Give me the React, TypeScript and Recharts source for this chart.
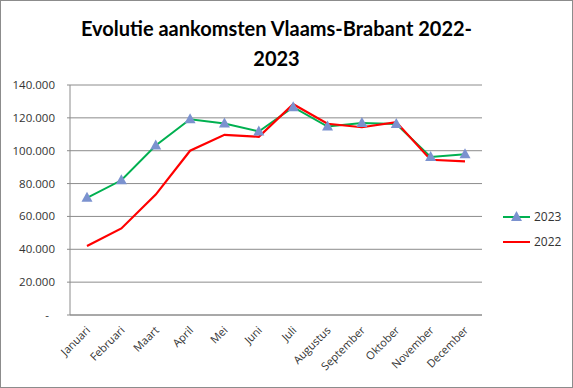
import React from "react";
import { LineChart, Line, XAxis, YAxis, CartesianGrid } from "recharts";

const months = ["Januari", "Februari", "Maart", "April", "Mei", "Juni", "Juli", "Augustus", "September", "Oktober", "November", "December"];
const arrivals2023 = [71300, 82000, 103200, 119200, 116600, 111700, 126500, 114700, 116800, 116200, 96200, 97800];
const arrivals2022 = [42000, 52700, 73300, 100000, 109700, 108500, 128300, 116400, 114300, 117400, 94500, 93500];
const yTicks = [0, 20000, 40000, 60000, 80000, 100000, 120000, 140000];

const data = months.map((m, i) => ({ month: m, y2023: arrivals2023[i], y2022: arrivals2022[i] }));

const FONT = "'Open Sans', 'Liberation Sans', sans-serif";

const fmt = (v: number) => v.toLocaleString("de-DE");

// triangle marker for the 2023 series
const Triangle = (props: any) => {
  const { cx, cy, index } = props;
  if (cx == null || cy == null) return <g key={index} />;
  return <path key={index} d={`M${cx},${cy - 6} L${cx + 5.5},${cy + 4} L${cx - 5.5},${cy + 4} Z`} fill="#7b92cf" />;
};

const MonthTick = (props: any) => {
  const { x, y, payload } = props;
  return (
    <text x={x + 4} y={y + 8} transform={`rotate(-45, ${x + 4}, ${y + 8})`} textAnchor="end" fontSize={11} fill="#333" fontFamily={FONT}>
      {payload.value}
    </text>
  );
};

const ValueTick = (props: any) => {
  const { x, y, payload } = props;
  const v = payload.value;
  return (
    <text x={v === 0 ? x - 6 : x} y={y} dy={4} textAnchor="end" fontSize={11.5} fill="#333" fontFamily={FONT}>
      {v === 0 ? "-" : fmt(v)}
    </text>
  );
};

const LegendBox = () => (
  <div style={{ position: "absolute", left: 502, top: 203, fontFamily: FONT, fontSize: 12, color: "#333" }}>
    <div style={{ display: "flex", alignItems: "center", height: 25 }}>
      <svg width={28} height={12}>
        <line x1={0} y1={6} x2={27} y2={6} stroke="#00b050" strokeWidth={2} />
        <path d="M13.5,0 L19,10 L8,10 Z" fill="#7b92cf" />
      </svg>
      <span style={{ marginLeft: 3 }}>2023</span>
    </div>
    <div style={{ display: "flex", alignItems: "center", height: 25 }}>
      <svg width={28} height={12}>
        <line x1={0} y1={6} x2={27} y2={6} stroke="#ff0000" strokeWidth={2} />
      </svg>
      <span style={{ marginLeft: 3 }}>2022</span>
    </div>
  </div>
);

export default function App() {
  return (
    <div style={{ position: "absolute", left: 0, top: 0, width: 573, height: 388, boxSizing: "border-box", border: "1px solid #8c8c8c", background: "#fff" }}>
      <div style={{ position: "absolute", left: 0, width: 551, top: 12, textAlign: "center", fontFamily: "Lato, sans-serif", fontWeight: 700, fontSize: 20, lineHeight: "30px", color: "#000" }}>
        <div>Evolutie aankomsten Vlaams-Brabant 2022-</div>
        <div>2023</div>
      </div>
      <LineChart width={571} height={386} data={data} margin={{ top: 84, right: 90, bottom: 12, left: 7 }}>
        <CartesianGrid vertical={false} stroke="#8c8c8c" strokeWidth={1} />
        <XAxis
          dataKey="month"
          interval={0}
          padding={{ left: 17, right: 17 }}
          tickLine={false}
          axisLine={{ stroke: "#8c8c8c" }}
          tick={<MonthTick />}
          height={60}
        />
        <YAxis
          ticks={yTicks}
          domain={[0, 140000]}
          tickSize={3}
          tickMargin={12}
          tickLine={{ stroke: "#8c8c8c" }}
          axisLine={{ stroke: "#8c8c8c" }}
          width={62}
          tick={<ValueTick />}
        />
        <Line dataKey="y2023" stroke="#00b050" strokeWidth={2} dot={<Triangle />} isAnimationActive={false} />
        <Line dataKey="y2022" stroke="#ff0000" strokeWidth={2.2} dot={false} isAnimationActive={false} />
      </LineChart>
      <LegendBox />
    </div>
  );
}
